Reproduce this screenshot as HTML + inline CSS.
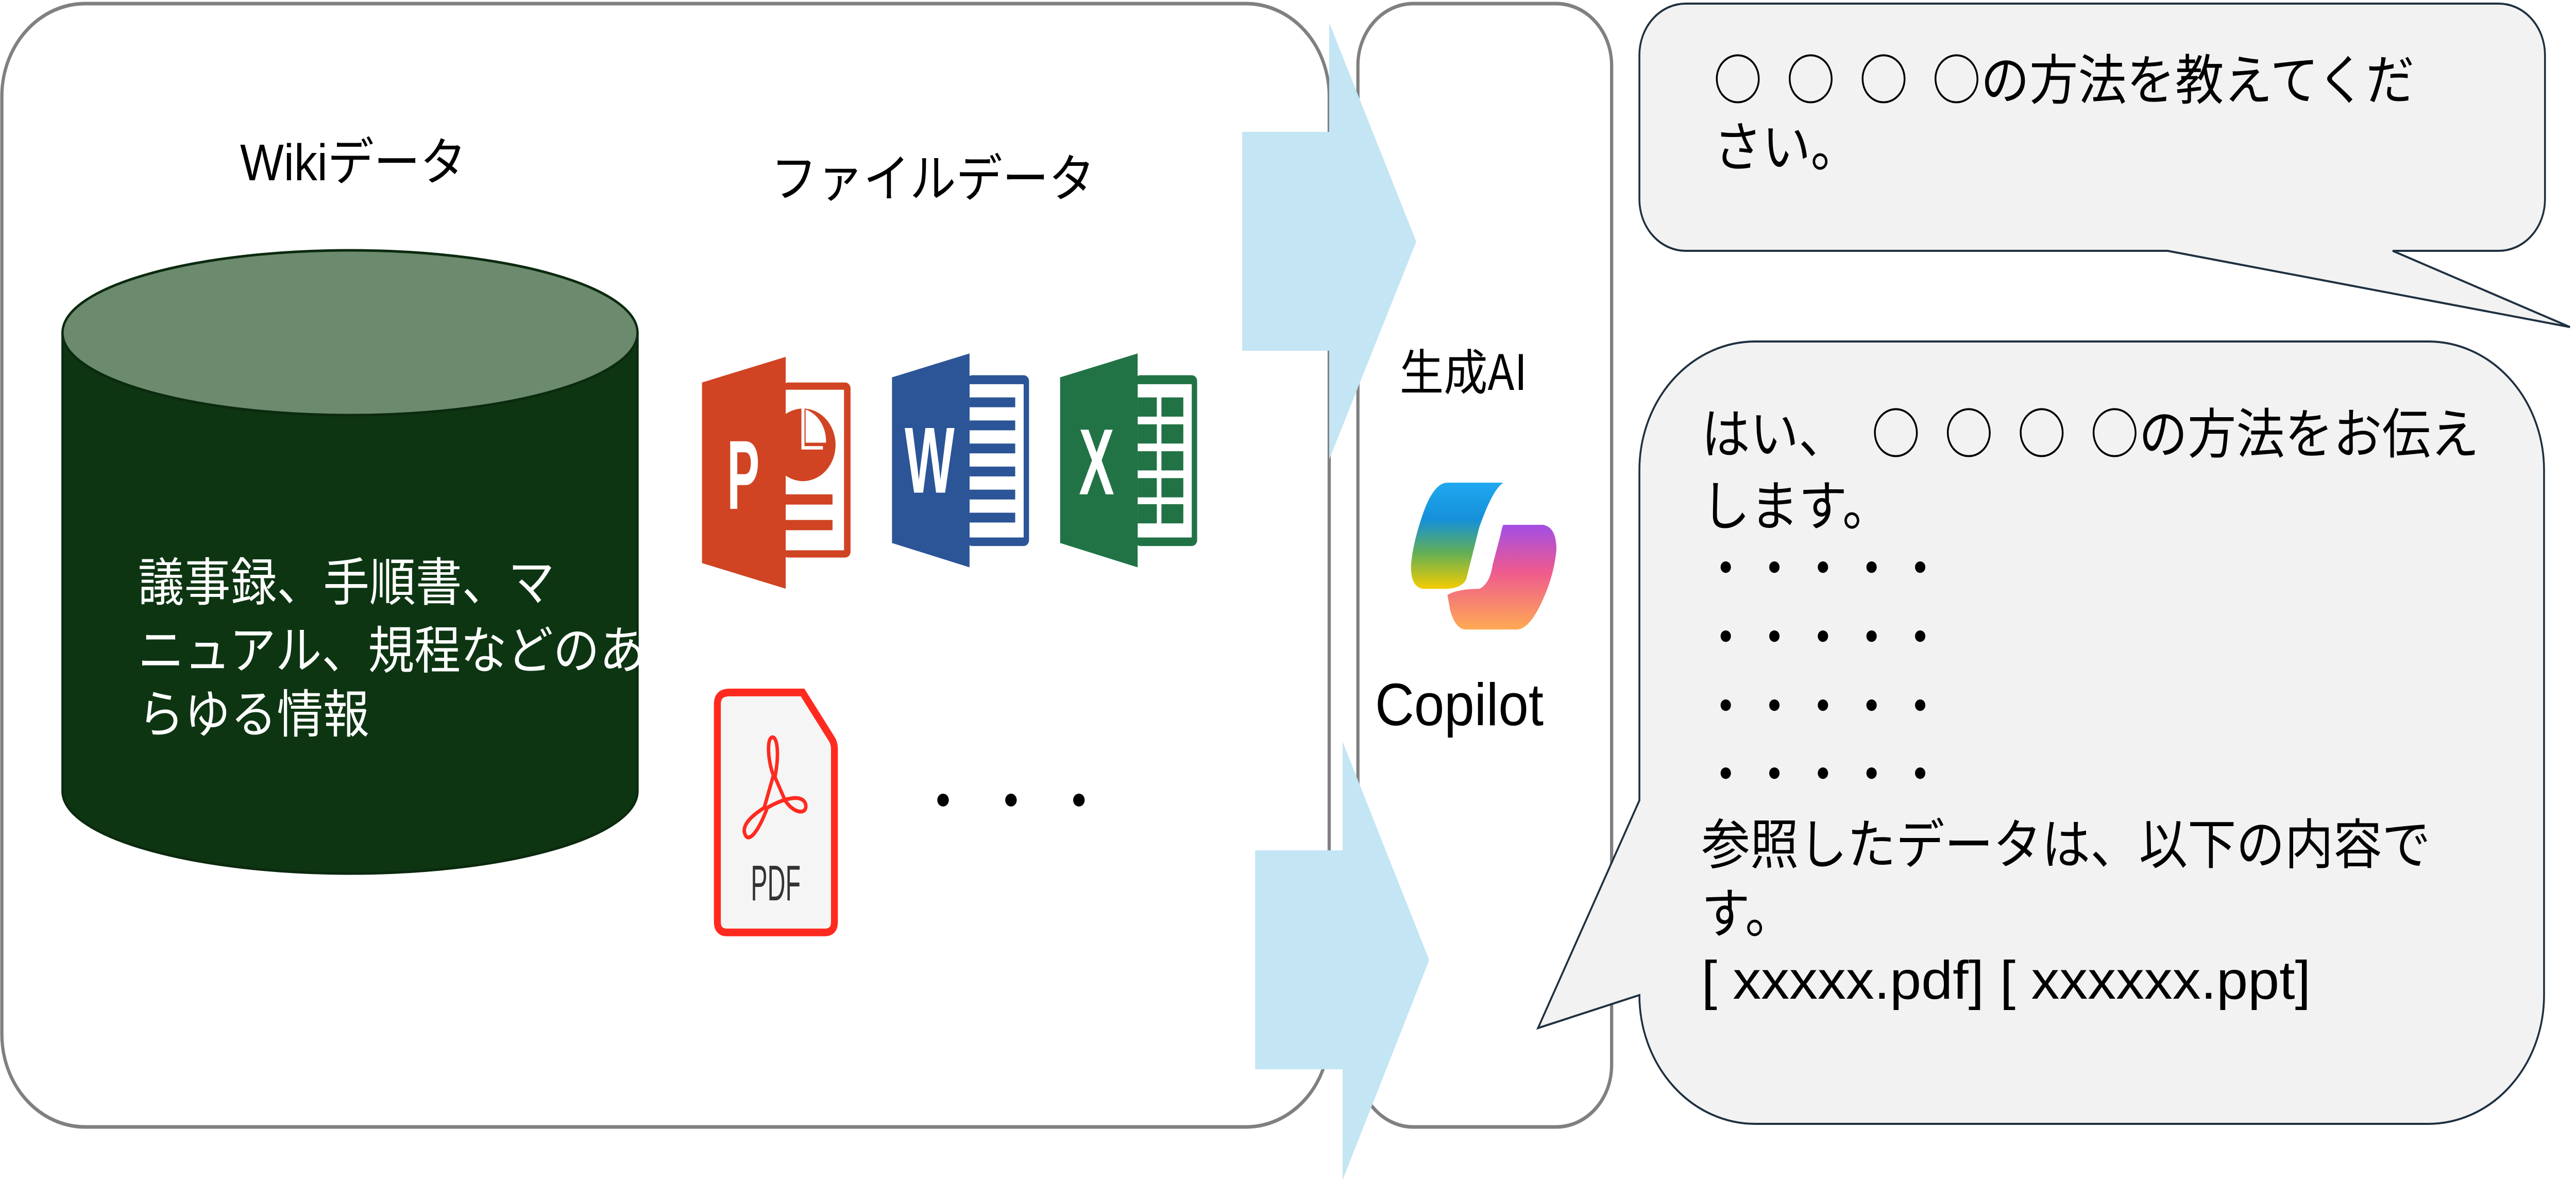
<!DOCTYPE html>
<html><head><meta charset="utf-8"><style>
html,body{margin:0;padding:0;background:#fff;width:100%;height:100%;overflow:hidden;}
svg{display:block;position:fixed;left:0;top:0;width:100vw;height:100vh;}
text{font-family:"Liberation Sans","Noto Sans CJK JP",sans-serif;}
.jp{font-family:"Noto Sans CJK JP","Liberation Sans",sans-serif;}
</style></head><body>
<svg viewBox="0 0 5564 2291" preserveAspectRatio="none" xmlns="http://www.w3.org/2000/svg">
<defs>
<linearGradient id="gA" x1="0" y1="0" x2="0" y2="1">
<stop offset="0" stop-color="#1fa8f0"/><stop offset="0.35" stop-color="#1590d8"/><stop offset="0.65" stop-color="#5fae5a"/><stop offset="1" stop-color="#f5cc00"/></linearGradient>
<linearGradient id="gB" x1="0" y1="0" x2="0" y2="1">
<stop offset="0" stop-color="#a34ee6"/><stop offset="0.45" stop-color="#ee5a8e"/><stop offset="1" stop-color="#ffaa55"/></linearGradient>
</defs>

<rect x="4" y="7" width="2867" height="2181" rx="180" ry="180" fill="#fff" stroke="#808080" stroke-width="7"/>
<rect x="2933" y="7" width="548" height="2181" rx="120" ry="120" fill="#fff" stroke="#808080" stroke-width="7"/>

<text x="763" y="350" font-size="100" text-anchor="middle">Wikiデータ</text>
<text x="2015" y="382" font-size="100" text-anchor="middle">ファイルデータ</text>

<path d="M135 646 V1536 A621 160 0 0 0 1377 1536 V646 Z" fill="#0d3512" stroke="#0b2a0f" stroke-width="5"/>
<ellipse cx="756" cy="646" rx="621" ry="160" fill="#6b8a6e" stroke="#0b2a0f" stroke-width="5"/>
<text class="jp" x="298" y="1166" font-size="100" fill="#fff">議事録、手順書、マ</text>
<text class="jp" x="298" y="1298" font-size="100" fill="#fff">ニュアル、規程などのあ</text>
<text class="jp" x="298" y="1422" font-size="100" fill="#fff">らゆる情報</text>

<g transform="translate(1450,600) scale(0.829)">
 <rect x="290" y="172" width="177" height="410" rx="14" fill="#d04423"/>
 <rect x="298" y="189" width="152" height="376" fill="#fff"/>
 <circle cx="343" cy="318" r="85" fill="#d04423"/>
 <path d="M350 235 L350 313 L403 313 A78 78 0 0 0 350 235 Z" fill="#fff"/>
 <path d="M343 233 L343 325 L395 325" fill="none" stroke="#fff" stroke-width="8"/>
 <rect x="298" y="434" width="122" height="24" fill="#d04423"/>
 <rect x="298" y="494" width="122" height="24" fill="#d04423"/>
 <polygon points="80,172 298,112 298,655 80,595" fill="#d04423"/>
 <text x="145" y="468" font-size="230" font-weight="bold" fill="#fff" textLength="85" lengthAdjust="spacingAndGlyphs">P</text>
 <rect x="770" y="155" width="162" height="400" rx="14" fill="#2b5597"/>
 <rect x="777" y="176" width="141" height="359" fill="#fff"/>
 <g fill="#2b5597"><rect x="777" y="207" width="119" height="23"/><rect x="777" y="261" width="119" height="23"/><rect x="777" y="315" width="119" height="23"/><rect x="777" y="369" width="119" height="23"/><rect x="777" y="423" width="119" height="23"/><rect x="777" y="477" width="119" height="23"/></g>
 <polygon points="575,160 777,104 777,605 575,548" fill="#2b5597"/>
 <text x="608" y="430" font-size="220" font-weight="bold" fill="#fff" textLength="130" lengthAdjust="spacingAndGlyphs">W</text>
 <rect x="1208" y="155" width="162" height="400" rx="14" fill="#217346"/>
 <rect x="1215" y="176" width="141" height="359" fill="#fff"/>
 <g fill="#217346">
  <rect x="1215" y="207" width="50" height="45"/><rect x="1277" y="207" width="57" height="45"/>
  <rect x="1215" y="270" width="50" height="45"/><rect x="1277" y="270" width="57" height="45"/>
  <rect x="1215" y="333" width="50" height="45"/><rect x="1277" y="333" width="57" height="45"/>
  <rect x="1215" y="396" width="50" height="45"/><rect x="1277" y="396" width="57" height="45"/>
  <rect x="1215" y="457" width="50" height="45"/><rect x="1277" y="457" width="57" height="45"/>
 </g>
 <polygon points="1013,160 1215,104 1215,605 1013,548" fill="#217346"/>
 <text x="1062" y="434" font-size="220" font-weight="bold" fill="#fff" textLength="92" lengthAdjust="spacingAndGlyphs">X</text>
 <path d="M152 898 L342 898 L420 1010 Q425 1020 425 1030 L425 1435 Q425 1460 400 1460 L145 1460 Q120 1460 120 1435 L120 925 Q120 898 152 898 Z" fill="#f5f5f5" stroke="#ff2a1f" stroke-width="18"/>
 <path d="M262 1003 C248 1008 252 1060 266 1092 L242 1168 C200 1192 180 1215 195 1235 C210 1248 235 1205 250 1168 C292 1146 342 1134 350 1160 C355 1186 318 1182 296 1150 L270 1096 C282 1040 276 1000 262 1003 Z" fill="none" stroke="#ff2a1f" stroke-width="9"/>
 <text x="272" y="1385" font-size="118" fill="#333" text-anchor="middle" textLength="130" lengthAdjust="spacingAndGlyphs">PDF</text>
 <circle cx="708" cy="1150" r="15" fill="#000"/><circle cx="885" cy="1150" r="15" fill="#000"/><circle cx="1062" cy="1150" r="15" fill="#000"/>
</g>

<polygon points="2683,256 2871,256 2871,44 3059,469 2871,892 2871,681 2683,681" fill="#c3e5f4"/>
<polygon points="2711,1651 2900,1651 2900,1440 3087,1864 2900,2291 2900,2076 2711,2076" fill="#c3e5f4"/>

<text class="jp" x="3161" y="757" font-size="95" text-anchor="middle">生成AI</text>
<g transform="translate(2650,0) scale(0.574,1.462)">
 <path d="M830 641 H1040 Q1000 650 950 700 L900 770 Q880 782 820 782 H740 Q690 780 693 750 Q700 720 740 680 Q780 641 830 641 Z" fill="url(#gA)"/>
 <path d="M1040 697 H1190 Q1240 700 1240 730 Q1230 770 1170 810 Q1130 836 1090 836 H900 Q860 836 840 810 L830 790 Q870 782 950 782 Q990 775 1000 750 L1030 710 Q1035 700 1040 697 Z" fill="url(#gB)"/>
</g>
<text x="2970" y="1408" font-size="116" textLength="364" lengthAdjust="spacingAndGlyphs">Copilot</text>

<path d="M3641 7 H5397 A100 100 0 0 1 5497 107 V387 A100 100 0 0 1 5397 487 H5168 L5551 635 L4682 487 H3641 A100 100 0 0 1 3541 387 V107 A100 100 0 0 1 3641 7 Z" fill="#f2f2f2" stroke="#1f3040" stroke-width="4"/>
<text class="jp" x="3701" y="193" font-size="105" xml:space="preserve">○&#8194;○&#8194;○&#8194;○の方法を教えてくだ</text>
<text class="jp" x="3701" y="323" font-size="105">さい。</text>

<path d="M3791 663 H5245 A250 250 0 0 1 5495 913 V1932 A250 250 0 0 1 5245 2182 H3791 A250 250 0 0 1 3541 1932 L3322 1996 L3541 1554 V913 A250 250 0 0 1 3791 663 Z" fill="#f2f2f2" stroke="#1f3040" stroke-width="4"/>
<g font-size="105">
<text class="jp" x="3675" y="880">はい、&#8194;○&#8194;○&#8194;○&#8194;○の方法をお伝え</text>
<text class="jp" x="3675" y="1020">します。</text>
<text class="jp" x="3675" y="1141">・・・・・</text>
<text class="jp" x="3675" y="1275">・・・・・</text>
<text class="jp" x="3675" y="1409">・・・・・</text>
<text class="jp" x="3675" y="1541">・・・・・</text>
<text class="jp" x="3675" y="1677">参照したデータは、以下の内容で</text>
<text class="jp" x="3675" y="1811">す。</text>
<text x="3675" y="1939" textLength="1316" lengthAdjust="spacingAndGlyphs">[ xxxxx.pdf] [ xxxxxx.ppt]</text>
</g>
</svg>
</body></html>
